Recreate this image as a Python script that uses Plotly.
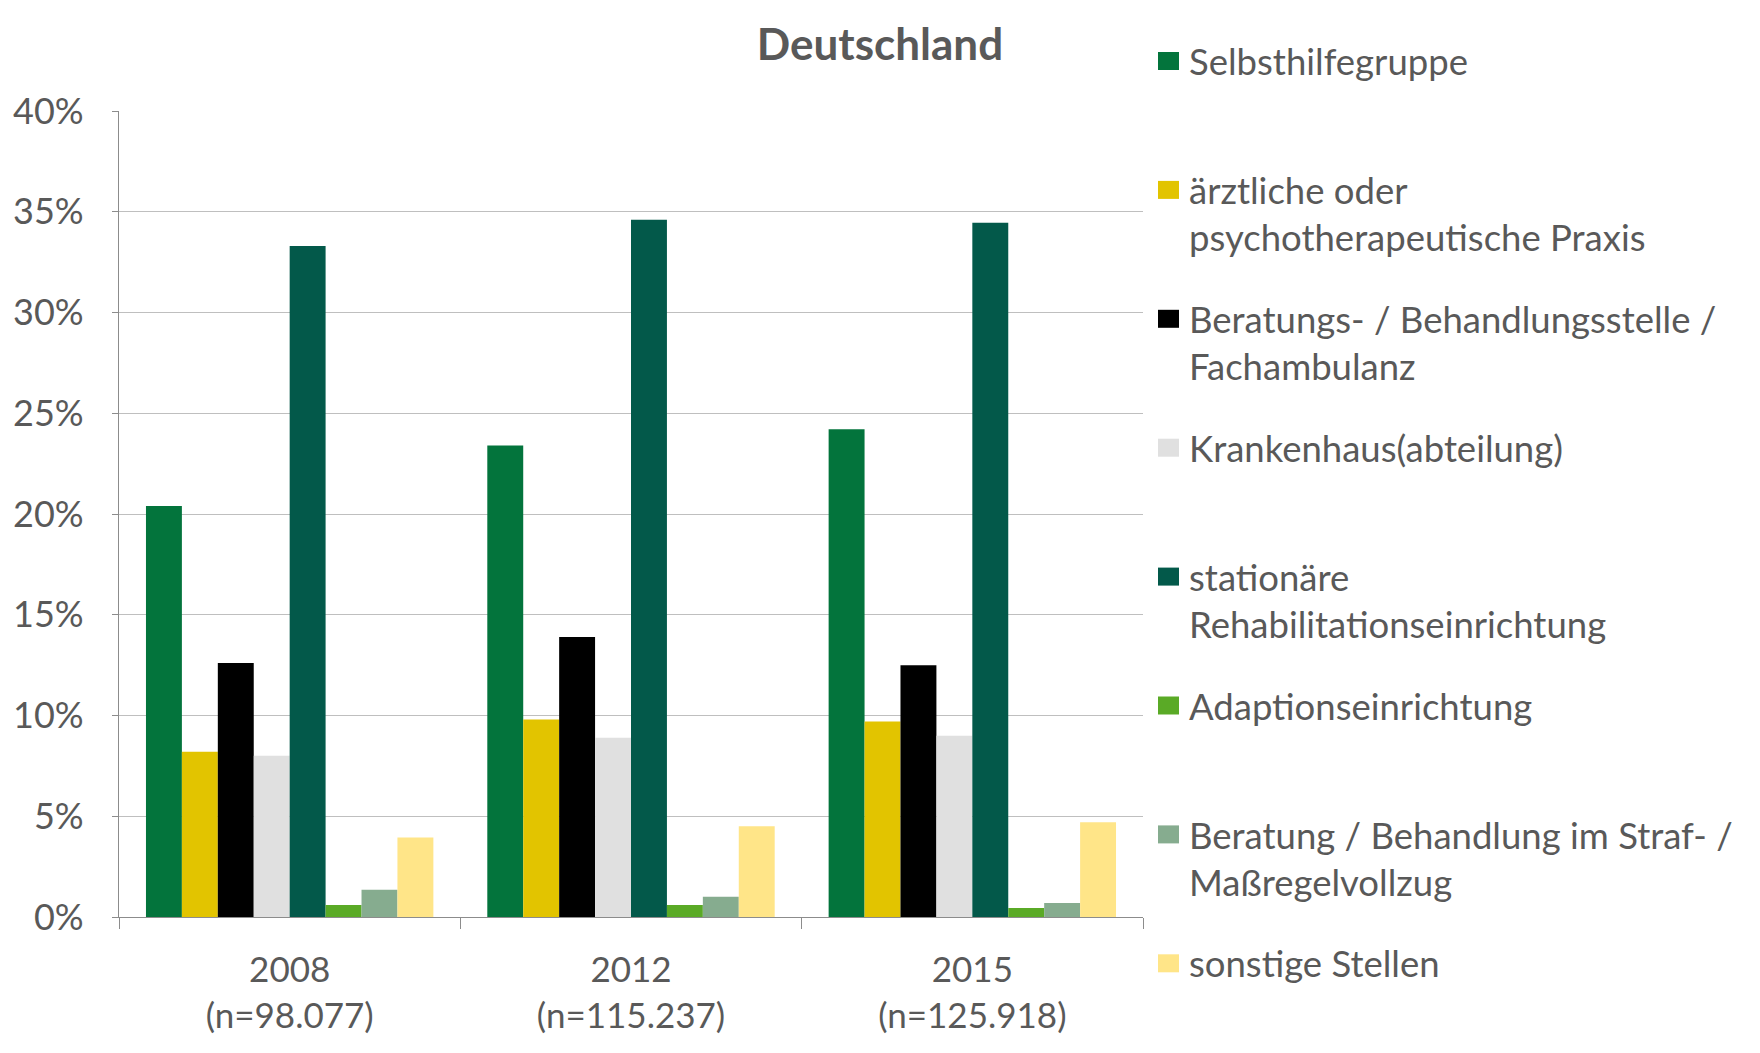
import plotly.graph_objects as go

years = ["2008<br>(n=98.077)", "2012<br>(n=115.237)", "2015<br>(n=125.918)"]
series_names = [
    "Selbsthilfegruppe",
    "ärztliche oder<br>psychotherapeutische Praxis",
    "Beratungs- / Behandlungsstelle /<br>Fachambulanz",
    "Krankenhaus(abteilung)",
    "stationäre<br>Rehabilitationseinrichtung",
    "Adaptionseinrichtung",
    "Beratung / Behandlung im Straf- /<br>Maßregelvollzug",
    "sonstige Stellen",
]
selbsthilfe = [20.4, 23.4, 24.2]
aerztlich = [8.2, 9.8, 9.7]
beratungsstelle = [12.6, 13.9, 12.5]
krankenhaus = [8.0, 8.9, 9.0]
stationaer = [33.3, 34.6, 34.45]
adaption = [0.6, 0.6, 0.45]
strafvollzug = [1.35, 1.0, 0.7]
sonstige = [3.95, 4.5, 4.7]
values = [selbsthilfe, aerztlich, beratungsstelle, krankenhaus,
          stationaer, adaption, strafvollzug, sonstige]
colors = ["#03743C", "#E2C400", "#000000", "#E0E0E0",
          "#03594A", "#5AAA26", "#86AC8F", "#FFE588"]

FONT = "Lato"
GREY = "#595959"
OFF = 8  # page body margin compensation
W, H = 1760 - OFF, 1053 - OFF
L, R, T, B = 119 - OFF, 1143 - OFF, 111 - OFF, 917 - OFF

fig = go.Figure()
for name, vals, col in zip(series_names, values, colors):
    fig.add_trace(go.Bar(x=years, y=vals, name=name, marker_color=col,
                         marker_line_width=0, showlegend=False))

def px2paper(px, py):
    return (px - OFF - L) / (R - L), (B - (py - OFF)) / (B - T)

fs = 36.5
lh = 1.3 * fs
first_y = 61
step = 128.9
for i, (name, col) in enumerate(zip(series_names, colors)):
    my = first_y + i * step
    x0, y0 = px2paper(1158, my - 9)
    x1, y1 = px2paper(1179, my + 9)
    fig.add_shape(type="rect", xref="paper", yref="paper", x0=x0, x1=x1,
                  y0=y1, y1=y0, fillcolor=col, line_width=0)
    nl = name.count("<br>") + 1
    tx, ty = px2paper(1187, my + (nl - 1) * lh / 2)
    fig.add_annotation(xref="paper", yref="paper", x=tx, y=ty, text=name,
                       showarrow=False, xanchor="left", yanchor="middle",
                       align="left", font=dict(family=FONT, size=fs, color=GREY))

fig.update_layout(
    width=W, height=H,
    margin=dict(l=L, r=W - R, t=T, b=H - B, pad=0, autoexpand=False),
    paper_bgcolor="white", plot_bgcolor="white",
    barmode="group", bargap=0.158, bargroupgap=0,
    font=dict(family=FONT, size=35, color=GREY),
    title=dict(text="<b>Deutschland</b>", x=(880 - OFF) / W, xref="container",
               xanchor="center", y=1 - (45 - OFF) / H, yanchor="middle",
               font=dict(family=FONT, size=44, color=GREY)),
)
fig.update_yaxes(range=[0, 40], dtick=5, ticksuffix="%", showgrid=True,
                 gridcolor="#BFBFBF", gridwidth=1.3, zeroline=False,
                 showline=True, linecolor="#8C8C8C", linewidth=1.3,
                 ticks="outside", ticklen=6, tickcolor="#8C8C8C",
                 ticklabelstandoff=21, automargin=False,
                 tickfont=dict(family=FONT, size=36, color=GREY))
fig.update_xaxes(showline=True, linecolor="#8C8C8C", linewidth=1.3,
                 ticks="outside", ticklen=11, tickcolor="#8C8C8C",
                 tickson="boundaries", ticklabelstandoff=22, automargin=False,
                 tickfont=dict(family=FONT, size=35, color=GREY))

fig.write_html("out.html")
